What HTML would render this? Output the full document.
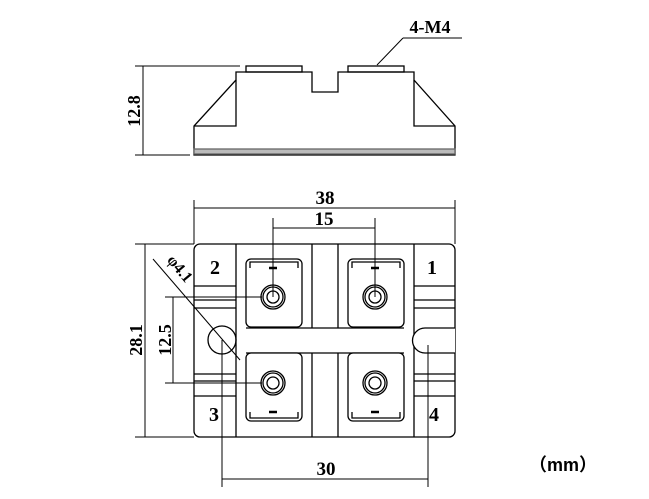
<!DOCTYPE html>
<html><head><meta charset="utf-8"><style>
html,body{margin:0;padding:0;background:#fff;}
svg{display:block;}
text{font-family:"Liberation Serif",serif;font-weight:bold;fill:#000;}
</style></head><body>
<svg width="649" height="499" viewBox="0 0 649 499" xmlns="http://www.w3.org/2000/svg">
<g stroke="#000" stroke-width="1.3" fill="none">
<!-- top view -->
<rect x="246" y="66" width="56" height="6"/>
<rect x="348" y="66" width="56" height="6"/>
<path d="M194,155 L194,126 L236,80 L236,72 L312,72 L312,92 L338,92 L338,72 L414,72 L414,80 L455,126 L455,155 Z"/>
<path d="M194,126 L236,126 L236,80 M455,126 L414,126 L414,80"/>
<rect x="194" y="149" width="261" height="5" fill="#bbb" stroke="#666"/>
<path d="M135,66 L240,66 M135,155 L190,155 M143,66 L143,155" stroke-width="1"/>
<path d="M403,38 L462,38 M403,38 L377,65" stroke-width="1"/>
<!-- bottom view body -->
<rect x="194" y="244" width="261" height="193" rx="6"/>
<path d="M236,244 V437 M312,244 V328 M338,244 V328 M312,353 V437 M338,353 V437 M414,244 V437"/>
<path d="M246,328 H404 M246,353 H404"/>
<path d="M194,286 H236 M194,300 H236 M194,308 H236 M194,374 H236 M194,381 H236 M194,396 H236"/>
<path d="M414,286 H455 M414,300 H455 M414,308 H455 M414,374 H455 M414,381 H455 M414,396 H455"/>
<circle cx="222" cy="340" r="14"/>
<path d="M455,328 H425 A12,12 0 0 0 425,353 H455" fill="#fff"/>
<g>
<rect x="246" y="259" width="56" height="68" rx="5" fill="#fff"/>
<rect x="348" y="259" width="56" height="68" rx="5" fill="#fff"/>
<rect x="246" y="353" width="56" height="68" rx="5" fill="#fff"/>
<rect x="348" y="353" width="56" height="68" rx="5" fill="#fff"/>
<path d="M250,268 V262 H298 V268 M352,268 V262 H400 V268 M250,412 V418 H298 V412 M352,412 V418 H400 V412"/>
</g>
<g>
<circle cx="273" cy="297" r="12"/><circle cx="273" cy="297" r="10"/><circle cx="273" cy="297" r="6"/>
<circle cx="375" cy="297" r="12"/><circle cx="375" cy="297" r="10"/><circle cx="375" cy="297" r="6"/>
<circle cx="273" cy="383" r="12"/><circle cx="273" cy="383" r="10"/><circle cx="273" cy="383" r="6"/>
<circle cx="375" cy="383" r="12"/><circle cx="375" cy="383" r="10"/><circle cx="375" cy="383" r="6"/>
</g>
<path d="M269,268 H277 M371,268 H379 M269,412 H277 M371,412 H379" stroke-width="2.5"/>
<g stroke-width="1">
<path d="M194,200 V244 M455,200 V244 M194,208 H455"/>
<path d="M273,218 V297 M375,218 V297 M273,228 H375"/>
<path d="M135,244 H194 M135,437 H194 M145,244 V437"/>
<path d="M165,297 H262 M165,383 H262 M173,297 V383"/>
<path d="M222,340 V487 M428,345 V487 M222,479 H428"/>
<path d="M153,259 L240,360"/>
</g>
</g>
<text x="325" y="204" font-size="19" text-anchor="middle">38</text>
<text x="324" y="225" font-size="19" text-anchor="middle">15</text>
<text x="326" y="475" font-size="19" text-anchor="middle">30</text>
<text x="430" y="33" font-size="18" text-anchor="middle">4-M4</text>
<text x="215" y="274" font-size="20" text-anchor="middle">2</text>
<text x="432" y="274" font-size="20" text-anchor="middle">1</text>
<text x="214" y="421" font-size="20" text-anchor="middle">3</text>
<text x="434" y="421" font-size="20" text-anchor="middle">4</text>
<text transform="translate(140,111) rotate(-90)" font-size="18" text-anchor="middle">12.8</text>
<text transform="translate(142,340) rotate(-90)" font-size="18" text-anchor="middle">28.1</text>
<text transform="translate(171,340) rotate(-90)" font-size="18" text-anchor="middle">12.5</text>
<text transform="translate(176,272) rotate(50)" font-size="16" text-anchor="middle">φ4.1</text>
<text x="563" y="471" font-size="18" text-anchor="middle" style="font-family:'Liberation Sans','Noto Sans CJK SC',sans-serif;font-weight:bold">（mm）</text>
</svg>
</body></html>
